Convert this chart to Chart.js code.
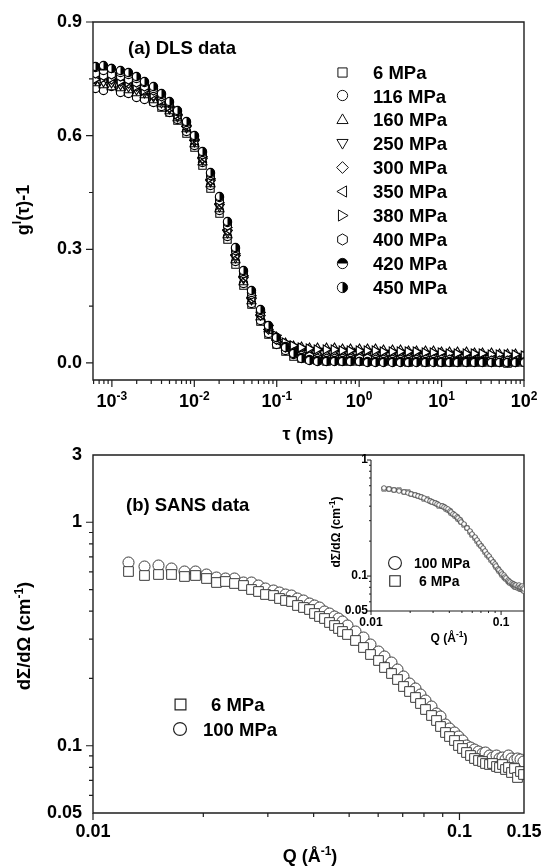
<!DOCTYPE html>
<html><head><meta charset="utf-8">
<script src="https://cdn.jsdelivr.net/npm/chart.js@4.4.1/dist/chart.umd.min.js"></script>
<style>
html,body{margin:0;padding:0;background:#fff;}
#wrap{position:relative;width:546px;height:867px;overflow:hidden;background:#fff;}
#wrap canvas{position:absolute;left:0;top:0;}
</style></head><body>
<div id="wrap">
<canvas id="cA" width="546" height="867"></canvas>
<canvas id="cB" width="546" height="867"></canvas>
<canvas id="cC" width="546" height="867"></canvas>
</div>
<script>
// ---------- (a) DLS data ----------
const tauMs = [6.31e-4,7.94e-4,1.00e-3,1.26e-3,1.58e-3,2.00e-3,2.51e-3,3.16e-3,3.98e-3,5.01e-3,
  6.31e-3,7.94e-3,1.00e-2,1.26e-2,1.58e-2,2.00e-2,2.51e-2,3.16e-2,3.98e-2,5.01e-2,
  6.31e-2,7.94e-2,0.100,0.126,0.158,0.200,0.251,0.316,0.398,0.501,
  0.631,0.794,1.00,1.26,1.58,2.00,2.51,3.16,3.98,5.01,
  6.31,7.94,10.0,12.6,15.8,20.0,25.1,31.6,39.8,50.1,63.1,79.4,100];
const g6 = [0.73,0.725,0.735,0.72,0.715,0.705,0.70,0.69,0.675,0.66,0.64,0.605,0.57,0.52,0.46,0.395,0.325,0.26,0.205,0.155,0.11,0.075,0.048,0.03,0.018,0.012,0.008,
  0.006,0.005,0.006,0.004,0.005,0.004,0.005,0.003,0.004,0.003,0.004,0.002,0.003,0.002,0.003,0.001,0.002,0.001,0.002,0.000,0.001,0.000,0.001,-0.001,0.000,0.000];
const g116 = [0.725,0.72,0.73,0.715,0.71,0.70,0.695,0.688,0.678,0.66,0.643,0.61,0.575,0.528,0.468,0.402,0.333,0.268,0.21,0.158,0.113,0.077,0.05,0.033,0.022,0.015,0.011,
  0.009,0.008,0.009,0.007,0.008,0.007,0.008,0.006,0.007,0.006,0.007,0.005,0.006,0.005,0.006,0.004,0.005,0.004,0.005,0.003,0.004,0.003,0.004,0.002,0.003,0.003];
const g160 = [0.74,0.735,0.73,0.728,0.722,0.714,0.708,0.696,0.684,0.667,0.647,0.618,0.58,0.533,0.473,0.408,0.34,0.274,0.216,0.164,0.123,0.091,0.069,0.054,0.047,0.044,0.042,
  0.041,0.040,0.041,0.039,0.039,0.038,0.038,0.037,0.036,0.036,0.035,0.034,0.034,0.032,0.032,0.031,0.031,0.029,0.029,0.028,0.027,0.027,0.025,0.024,0.024,0.022];
const g250 = [0.745,0.74,0.738,0.733,0.728,0.72,0.712,0.70,0.686,0.669,0.648,0.619,0.583,0.535,0.476,0.411,0.343,0.277,0.219,0.166,0.124,0.09,0.065,0.049,0.04,0.035,0.032,
  0.031,0.030,0.030,0.029,0.029,0.028,0.028,0.027,0.026,0.026,0.025,0.025,0.024,0.023,0.023,0.022,0.021,0.021,0.020,0.019,0.019,0.018,0.017,0.017,0.016,0.015];
const g300 = [0.75,0.755,0.748,0.742,0.738,0.73,0.718,0.706,0.692,0.675,0.653,0.623,0.586,0.54,0.482,0.418,0.35,0.284,0.225,0.171,0.126,0.089,0.062,0.044,0.032,0.026,0.023,
  0.021,0.020,0.020,0.019,0.019,0.019,0.018,0.018,0.017,0.017,0.017,0.016,0.016,0.015,0.015,0.015,0.014,0.014,0.013,0.013,0.012,0.012,0.012,0.011,0.011,0.010];
const g350 = [0.76,0.752,0.757,0.748,0.742,0.735,0.722,0.71,0.694,0.677,0.655,0.625,0.588,0.543,0.485,0.421,0.353,0.287,0.228,0.174,0.127,0.088,0.059,0.04,0.027,0.021,0.018,
  0.016,0.015,0.015,0.015,0.014,0.014,0.014,0.013,0.013,0.013,0.012,0.012,0.012,0.011,0.011,0.011,0.010,0.010,0.010,0.010,0.009,0.009,0.009,0.008,0.008,0.008];
const g380 = [0.748,0.75,0.752,0.744,0.739,0.73,0.72,0.708,0.694,0.676,0.655,0.626,0.59,0.545,0.488,0.424,0.357,0.29,0.23,0.177,0.133,0.098,0.073,0.055,0.045,0.041,0.038,
  0.036,0.035,0.035,0.034,0.034,0.033,0.033,0.032,0.031,0.031,0.030,0.030,0.029,0.028,0.028,0.027,0.026,0.026,0.025,0.024,0.024,0.023,0.022,0.022,0.021,0.020];
const g400 = [0.765,0.758,0.762,0.755,0.748,0.741,0.73,0.718,0.703,0.686,0.664,0.629,0.594,0.55,0.494,0.43,0.363,0.297,0.236,0.182,0.134,0.093,0.063,0.042,0.028,0.02,0.016,
  0.013,0.012,0.012,0.012,0.011,0.011,0.011,0.010,0.010,0.010,0.009,0.009,0.009,0.008,0.008,0.008,0.008,0.007,0.007,0.007,0.006,0.006,0.006,0.006,0.005,0.005];
const g420 = [0.78,0.772,0.776,0.768,0.762,0.752,0.739,0.725,0.708,0.688,0.665,0.635,0.599,0.555,0.50,0.437,0.37,0.303,0.242,0.187,0.138,0.097,0.066,0.043,0.026,0.015,0.01,
  0.007,0.006,0.006,0.006,0.006,0.005,0.005,0.005,0.005,0.005,0.004,0.004,0.004,0.004,0.004,0.003,0.003,0.003,0.003,0.003,0.003,0.002,0.002,0.002,0.002,0.002];
const g450 = [0.782,0.785,0.778,0.772,0.766,0.756,0.744,0.729,0.711,0.69,0.667,0.637,0.601,0.558,0.503,0.44,0.373,0.306,0.245,0.19,0.14,0.099,0.067,0.042,0.024,0.012,0.007,
  0.004,0.003,0.003,0.003,0.003,0.003,0.002,0.002,0.002,0.002,0.002,0.002,0.001,0.001,0.001,0.001,0.001,0.001,0.001,0.000,0.000,0.000,0.000,0.000,0.000,0.000];
const dlsLabels = ['6 MPa','116 MPa','160 MPa','250 MPa','300 MPa','350 MPa','380 MPa','400 MPa','420 MPa','450 MPa'];
const dlsSymbols = ['square','circle','up','down','diamond','left','right','hex','halfTop','halfRight'];
const dlsYTicks = [0, 0.3, 0.6, 0.9];
const dlsYMinor = [0.15, 0.45, 0.75];
const dlsXTicks = [1e-3, 1e-2, 1e-1, 1, 10, 100];
const dlsXExp = ['-3', '-2', '-1', '0', '1', '2'];

// ---------- (b) SANS data ----------
const qInvA = [0.0125,0.0138,0.0151,0.0164,0.0178,0.0191,0.0204,0.0217,0.0230,0.0244,
  0.0257,0.0270,0.0283,0.0296,0.0310,0.0323,0.0336,0.0349,0.0362,0.0376,
  0.0389,0.0402,0.0415,0.0428,0.0442,0.0455,0.0468,0.0481,0.0494,
  0.0520,0.0547,0.0573,0.0600,0.0626,0.0652,0.0679,0.0705,0.0731,0.0758,
  0.0784,0.0810,0.0837,0.0863,0.0890,0.0916,0.0942,0.0969,0.0995,0.1021,
  0.1048,0.1074,0.1100,0.1127,0.1153,0.1180,0.1206,0.1232,0.1259,0.1285,
  0.1311,0.1338,0.1364,0.1390,0.1417,0.1443,0.1470,0.1496];
const sans100 = [0.66,0.635,0.64,0.62,0.605,0.60,0.585,0.565,0.56,0.56,
  0.54,0.535,0.52,0.505,0.495,0.485,0.475,0.47,0.455,0.445,
  0.435,0.425,0.415,0.40,0.39,0.38,0.37,0.36,0.345,
  0.325,0.305,0.285,0.265,0.25,0.235,0.22,0.205,0.19,0.18,
  0.17,0.16,0.15,0.14,0.135,0.125,0.12,0.115,0.11,0.106,
  0.10,0.098,0.096,0.094,0.092,0.093,0.09,0.089,0.09,0.088,
  0.089,0.087,0.09,0.088,0.086,0.088,0.087,0.085];
const sans6 = [0.60,0.575,0.585,0.585,0.57,0.575,0.56,0.54,0.545,0.53,
  0.52,0.50,0.49,0.475,0.47,0.455,0.445,0.44,0.425,0.415,
  0.405,0.39,0.38,0.37,0.355,0.345,0.335,0.325,0.315,
  0.295,0.275,0.255,0.24,0.225,0.21,0.198,0.185,0.175,0.165,
  0.155,0.145,0.137,0.13,0.122,0.115,0.11,0.105,0.10,0.097,
  0.093,0.09,0.088,0.086,0.085,0.083,0.082,0.083,0.081,0.08,
  0.082,0.078,0.08,0.076,0.079,0.072,0.077,0.074];
const inset100 = [0.57,0.56,0.555,0.545,0.535,0.52,0.51,0.50,0.49,0.48,
  0.47,0.455,0.445,0.435,0.425,0.415,0.41,0.40,0.39,0.385,
  0.375,0.365,0.355,0.345,0.335,0.325,0.315,0.305,0.295,
  0.28,0.262,0.245,0.23,0.215,0.205,0.193,0.183,0.175,0.165,
  0.156,0.148,0.14,0.133,0.127,0.121,0.116,0.113,0.109,0.105,
  0.102,0.099,0.096,0.093,0.091,0.089,0.088,0.086,0.085,0.084,
  0.083,0.082,0.083,0.081,0.08,0.082,0.079,0.078];
const inset6 = [0.565,0.565,0.55,0.548,0.53,0.525,0.505,0.498,0.485,0.478,
  0.465,0.458,0.44,0.432,0.422,0.418,0.405,0.398,0.392,0.38,
  0.372,0.362,0.352,0.342,0.332,0.322,0.312,0.302,0.293,
  0.276,0.258,0.242,0.228,0.213,0.202,0.19,0.18,0.171,0.162,
  0.153,0.145,0.137,0.131,0.125,0.119,0.114,0.11,0.106,0.103,
  0.099,0.097,0.094,0.091,0.089,0.087,0.085,0.084,0.082,0.081,
  0.08,0.079,0.08,0.078,0.077,0.078,0.076,0.075];
const sansYTicks = [0.05, 0.1, 1, 2];
const sansYTickText = ['0.05', '0.1', '1', '3'];
const sansXTicks = [0.01, 0.1, 0.15];
const insetYTicks = [0.05, 0.1, 1];
const insetXTicks = [0.01, 0.1];

// ---------- helpers ----------
const FONT = "'Liberation Sans', Arial, Helvetica, sans-serif";
const fnt = s => 'bold ' + s + 'px ' + FONT;

function makeMarker(kind, r, stroke, lw) {
  const size = Math.ceil(2 * r + 2 * lw + 3);
  const c = document.createElement('canvas');
  c.width = size; c.height = size;
  const g = c.getContext('2d');
  g.translate(size / 2, size / 2);
  const path = () => {
    g.beginPath();
    switch (kind) {
      case 'square': { const h = r * 0.82; g.rect(-h, -h, 2 * h, 2 * h); break; }
      case 'up': g.moveTo(0, -r); g.lineTo(r, r * 0.72); g.lineTo(-r, r * 0.72); g.closePath(); break;
      case 'down': g.moveTo(0, r); g.lineTo(r, -r * 0.72); g.lineTo(-r, -r * 0.72); g.closePath(); break;
      case 'left': g.moveTo(-r, 0); g.lineTo(r * 0.72, -r); g.lineTo(r * 0.72, r); g.closePath(); break;
      case 'right': g.moveTo(r, 0); g.lineTo(-r * 0.72, -r); g.lineTo(-r * 0.72, r); g.closePath(); break;
      case 'diamond': g.moveTo(0, -r * 1.05); g.lineTo(r * 1.05, 0); g.lineTo(0, r * 1.05); g.lineTo(-r * 1.05, 0); g.closePath(); break;
      case 'hex':
        for (let k = 0; k < 6; k++) {
          const a = -Math.PI / 2 + k * Math.PI / 3;
          const px = Math.cos(a) * r, py = Math.sin(a) * r;
          if (k === 0) g.moveTo(px, py); else g.lineTo(px, py);
        }
        g.closePath(); break;
      default: g.arc(0, 0, r * 0.92, 0, Math.PI * 2);
    }
  };
  path(); g.fillStyle = '#fff'; g.fill();
  if (kind === 'halfTop') {
    g.beginPath(); g.arc(0, 0, r * 0.92, Math.PI, 2 * Math.PI); g.closePath(); g.fillStyle = '#000'; g.fill();
  }
  if (kind === 'halfRight') {
    g.beginPath(); g.arc(0, 0, r * 0.92, -Math.PI / 2, Math.PI / 2); g.closePath(); g.fillStyle = '#000'; g.fill();
  }
  path(); g.lineWidth = lw; g.strokeStyle = stroke; g.stroke();
  return c;
}

function drawRich(ctx, parts, x, y, align) {
  let w = 0;
  parts.forEach(p => { ctx.font = fnt(p[1]); w += ctx.measureText(p[0]).width; });
  let sx = align === 'center' ? x - w / 2 : (align === 'right' ? x - w : x);
  ctx.textAlign = 'left'; ctx.textBaseline = 'alphabetic'; ctx.fillStyle = '#000';
  parts.forEach(p => {
    ctx.font = fnt(p[1]);
    ctx.fillText(p[0], sx, y + (p[2] || 0));
    sx += ctx.measureText(p[0]).width;
  });
}

function drawRotRich(ctx, parts, x, y) {
  ctx.save(); ctx.translate(x, y); ctx.rotate(-Math.PI / 2);
  drawRich(ctx, parts, 0, 0, 'center');
  ctx.restore();
}

function logMinor(min, max) {
  const out = [];
  for (let e = -5; e <= 3; e++) {
    for (let m = 2; m <= 9; m++) {
      const v = m * Math.pow(10, e);
      if (v > min * 1.0001 && v < max * 0.9999) out.push(v);
    }
  }
  return out;
}

function drawFrameAndTicks(chart, cfg) {
  const { ctx, chartArea: a } = chart;
  const xs = chart.scales.x, ys = chart.scales.y;
  ctx.save();
  ctx.strokeStyle = '#1e1e1e';
  ctx.lineWidth = cfg.lw;
  ctx.beginPath();
  if (cfg.box) {
    ctx.rect(a.left, a.top, a.right - a.left, a.bottom - a.top);
  } else {
    ctx.moveTo(a.left, a.top); ctx.lineTo(a.left, a.bottom); ctx.lineTo(a.right, a.bottom);
  }
  ctx.stroke();
  ctx.lineWidth = cfg.tw;
  ctx.beginPath();
  cfg.yMajor.forEach(v => { const p = ys.getPixelForValue(v); ctx.moveTo(a.left, p); ctx.lineTo(a.left - cfg.maj, p); });
  cfg.yMinor.forEach(v => { const p = ys.getPixelForValue(v); ctx.moveTo(a.left, p); ctx.lineTo(a.left - cfg.min, p); });
  cfg.xMajor.forEach(v => { const p = xs.getPixelForValue(v); ctx.moveTo(p, a.bottom); ctx.lineTo(p, a.bottom + cfg.maj); });
  cfg.xMinor.forEach(v => { const p = xs.getPixelForValue(v); ctx.moveTo(p, a.bottom); ctx.lineTo(p, a.bottom + cfg.min); });
  ctx.stroke();
  ctx.restore();
}

const crisp = {
  id: 'crisp',
  beforeDatasetsDraw(chart) { chart.ctx.imageSmoothingEnabled = false; },
  afterDatasetsDraw(chart) { chart.ctx.imageSmoothingEnabled = true; }
};

const tickFont = s => ({ family: FONT, size: s, weight: 'bold' });

// ---------- Chart A : DLS ----------
const dlsSeries = [g6, g116, g160, g250, g300, g350, g380, g400, g420, g450];
const dlsPointMarkers = dlsSymbols.map(k => makeMarker(k, 4.5, '#000', 1.1));
const dlsLegendMarkers = dlsSymbols.map(k => makeMarker(k, 5.6, '#111', 1));

const decoA = {
  id: 'decoA',
  afterDraw(chart) {
    const ctx = chart.ctx;
    drawFrameAndTicks(chart, {
      box: true, lw: 1.4, tw: 1.2, maj: 7, min: 4,
      yMajor: dlsYTicks, yMinor: dlsYMinor,
      xMajor: dlsXTicks, xMinor: logMinor(chart.scales.x.min, chart.scales.x.max)
    });
    dlsXTicks.forEach((v, i) => {
      const px = chart.scales.x.getPixelForValue(v);
      drawRich(ctx, [['10', 18], [dlsXExp[i], 12, -7]], px, 407, 'center');
    });
    drawRich(ctx, [['\u03C4 (ms)', 18]], 308, 440, 'center');
    drawRotRich(ctx, [['g', 18], ['I', 12, -8], ['(\u03C4)-1', 18]], 29, 210);
    drawRich(ctx, [['(a) DLS data', 18.5]], 128, 54, 'left');
    dlsLabels.forEach((lab, i) => {
      const cy = 72 + i * 23.9;
      const m = dlsLegendMarkers[i];
      ctx.drawImage(m, Math.round(342 - m.width / 2), Math.round(cy - m.height / 2));
      drawRich(ctx, [[lab, 18.5]], 373, cy + 6.6, 'left');
    });
  }
};

new Chart(document.getElementById('cA'), {
  type: 'scatter',
  data: {
    datasets: dlsSeries.map((vals, i) => ({
      label: dlsLabels[i],
      data: tauMs.map((t, k) => ({ x: t, y: vals[k] })),
      pointStyle: dlsPointMarkers[i],
      pointRadius: 4,
      order: 9 - i
    }))
  },
  options: {
    responsive: false, animation: false, events: [],
    layout: { autoPadding: false, padding: { left: 33, top: 22, right: 22, bottom: 457 } },
    plugins: { legend: { display: false }, tooltip: { enabled: false } },
    scales: {
      x: {
        type: 'logarithmic', min: 5.9e-4, max: 100, bounds: 'data',
        grid: { display: false }, border: { display: false },
        ticks: { display: false },
        afterFit: s => { s.height = 30; }
      },
      y: {
        type: 'linear', min: -0.045, max: 0.9, bounds: 'data',
        grid: { display: false, drawTicks: true, tickLength: 7 }, border: { display: false },
        ticks: { color: '#000', font: tickFont(18), padding: 4, autoSkip: false, callback: v => Number(v).toFixed(1) },
        afterBuildTicks: s => { s.ticks = dlsYTicks.map(v => ({ value: v })); },
        afterFit: s => { s.width = 60; }
      }
    }
  },
  plugins: [crisp, decoA]
});

// ---------- Chart B : SANS main ----------
const sansSqMarker = makeMarker('square', 5.9, '#3a3a3a', 1);
const sansCiMarker = makeMarker('circle', 6.0, '#3a3a3a', 1);
const sansSqLegend = makeMarker('square', 6.6, '#222', 1.2);
const sansCiLegend = makeMarker('circle', 7.0, '#222', 1.2);

const decoB = {
  id: 'decoB',
  afterDraw(chart) {
    const ctx = chart.ctx;
    drawFrameAndTicks(chart, {
      box: true, lw: 1.4, tw: 1.2, maj: 7, min: 4,
      yMajor: [0.1, 1], yMinor: logMinor(0.05, 1),
      xMajor: [0.01, 0.1], xMinor: logMinor(0.01, 0.1)
    });
    drawRich(ctx, [['(b) SANS data', 18.5]], 126, 511, 'left');
    drawRotRich(ctx, [['d\u03A3/d\u03A9 (cm', 18.5], ['-1', 12, -7], [')', 18.5]], 30, 636);
    drawRich(ctx, [['Q (\u00C5', 18], ['-1', 12, -7], [')', 18]], 310, 862, 'center');
    ctx.drawImage(sansSqLegend, Math.round(180 - sansSqLegend.width / 2), Math.round(704 - sansSqLegend.height / 2));
    drawRich(ctx, [[chart.data.datasets[0].label, 18.5]], 211, 704 + 6.6, 'left');
    ctx.drawImage(sansCiLegend, Math.round(180 - sansCiLegend.width / 2), Math.round(729 - sansCiLegend.height / 2));
    drawRich(ctx, [[chart.data.datasets[1].label, 18.5]], 203, 729 + 6.6, 'left');
  }
};

new Chart(document.getElementById('cB'), {
  type: 'scatter',
  data: {
    datasets: [
      { label: '6 MPa', data: qInvA.map((q, k) => ({ x: q, y: sans6[k] })), pointStyle: sansSqMarker, pointRadius: 5 },
      { label: '100 MPa', data: qInvA.map((q, k) => ({ x: q, y: sans100[k] })), pointStyle: sansCiMarker, pointRadius: 5 }
    ]
  },
  options: {
    responsive: false, animation: false, events: [],
    layout: { autoPadding: false, padding: { left: 33, top: 455, right: 22, bottom: 24 } },
    plugins: { legend: { display: false }, tooltip: { enabled: false } },
    scales: {
      x: {
        type: 'logarithmic', min: 0.01, max: 0.15, bounds: 'data',
        grid: { display: false, drawTicks: true, tickLength: 7 }, border: { display: false },
        ticks: { color: '#000', font: tickFont(18), padding: 1, autoSkip: false, maxRotation: 0,
          callback: (v, i) => String(sansXTicks[i]) },
        afterBuildTicks: s => { s.ticks = sansXTicks.map(v => ({ value: v })); },
        afterFit: s => { s.height = 30; }
      },
      y: {
        type: 'logarithmic', min: 0.05, max: 2, bounds: 'data',
        grid: { display: false, drawTicks: true, tickLength: 7 }, border: { display: false },
        ticks: { color: '#000', font: tickFont(18), padding: 4, autoSkip: false,
          callback: (v, i) => sansYTickText[i] },
        afterBuildTicks: s => { s.ticks = sansYTicks.map(v => ({ value: v })); },
        afterFit: s => { s.width = 60; }
      }
    }
  },
  plugins: [crisp, decoB]
});

// ---------- Chart C : inset ----------
const inSqMarker = makeMarker('square', 2.6, '#444', 0.8);
const inCiMarker = makeMarker('circle', 2.5, '#444', 0.8);
const inSqLegend = makeMarker('square', 6.4, '#222', 1.1);
const inCiLegend = makeMarker('circle', 7.0, '#222', 1.1);

const decoC = {
  id: 'decoC',
  afterDraw(chart) {
    const ctx = chart.ctx;
    drawFrameAndTicks(chart, {
      box: false, lw: 1.1, tw: 1, maj: 4, min: 2,
      yMajor: insetYTicks, yMinor: logMinor(0.05, 1),
      xMajor: insetXTicks, xMinor: logMinor(0.01, 0.15)
    });
    drawRotRich(ctx, [['d\u03A3/d\u03A9 (cm', 12], ['-1', 8.5, -5], [')', 12]], 340, 532);
    drawRich(ctx, [['Q (\u00C5', 12], ['-1', 8.5, -5], [')', 12]], 449, 642, 'center');
    ctx.drawImage(inCiLegend, Math.round(395 - inCiLegend.width / 2), Math.round(563 - inCiLegend.height / 2));
    drawRich(ctx, [[chart.data.datasets[0].label, 14]], 414, 563 + 5, 'left');
    ctx.drawImage(inSqLegend, Math.round(395 - inSqLegend.width / 2), Math.round(581 - inSqLegend.height / 2));
    drawRich(ctx, [[chart.data.datasets[1].label, 14]], 419, 581 + 5, 'left');
  }
};

new Chart(document.getElementById('cC'), {
  type: 'scatter',
  data: {
    datasets: [
      { label: '100 MPa', data: qInvA.map((q, k) => ({ x: q, y: inset100[k] })), pointStyle: inCiMarker, pointRadius: 2 },
      { label: '6 MPa', data: qInvA.map((q, k) => ({ x: q, y: inset6[k] })), pointStyle: inSqMarker, pointRadius: 2 }
    ]
  },
  options: {
    responsive: false, animation: false, events: [],
    layout: { autoPadding: false, padding: { left: 331, top: 460, right: 22, bottom: 236 } },
    plugins: { legend: { display: false }, tooltip: { enabled: false } },
    scales: {
      x: {
        type: 'logarithmic', min: 0.01, max: 0.15, bounds: 'data',
        grid: { display: false, drawTicks: true, tickLength: 3 }, border: { display: false },
        ticks: { color: '#000', font: tickFont(12), padding: 1, autoSkip: false, maxRotation: 0,
          callback: (v, i) => String(insetXTicks[i]) },
        afterBuildTicks: s => { s.ticks = insetXTicks.map(v => ({ value: v })); },
        afterFit: s => { s.height = 20; }
      },
      y: {
        type: 'logarithmic', min: 0.05, max: 1, bounds: 'data',
        grid: { display: false, drawTicks: true, tickLength: 2 }, border: { display: false },
        ticks: { color: '#000', font: tickFont(12), padding: 1, autoSkip: false,
          callback: (v, i) => String(insetYTicks[i]) },
        afterBuildTicks: s => { s.ticks = insetYTicks.map(v => ({ value: v })); },
        afterFit: s => { s.width = 40; }
      }
    }
  },
  plugins: [crisp, decoC]
});
</script>
</body></html>
